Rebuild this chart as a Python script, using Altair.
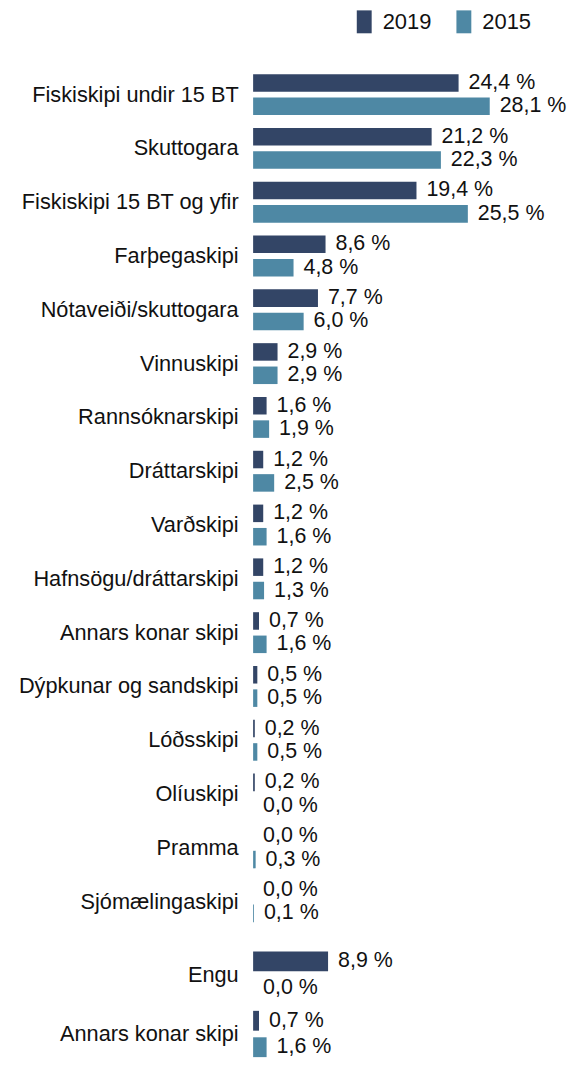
import altair as alt
import pandas as pd

categories = ["Fiskiskipi undir 15 BT", "Skuttogara", "Fiskiskipi 15 BT og yfir",
              "Farþegaskipi", "Nótaveiði/skuttogara", "Vinnuskipi", "Rannsóknarskipi",
              "Dráttarskipi", "Varðskipi", "Hafnsögu/dráttarskipi", "Annars konar skipi",
              "Dýpkunar og sandskipi", "Lóðsskipi", "Olíuskipi", "Pramma", "Sjómælingaskipi"]
values_2019 = [24.4, 21.2, 19.4, 8.6, 7.7, 2.9, 1.6, 1.2, 1.2, 1.2, 0.7, 0.5, 0.2, 0.2, 0.0, 0.0]
values_2015 = [28.1, 22.3, 25.5, 4.8, 6.0, 2.9, 1.9, 2.5, 1.6, 1.3, 1.6, 0.5, 0.5, 0.0, 0.3, 0.1]

extra_categories = ["Engu", "Annars konar skipi"]
extra_2019 = [8.9, 0.7]
extra_2015 = [0.0, 1.6]

years = ["2019", "2015"]
colors = ["#334566", "#4e88a4"]

FONT = "Liberation Sans"
AXIS_FS = 21.8
VALUE_FS = 21.5


def make_df(cats, v19, v15):
    rows = []
    for c, a, b in zip(cats, v19, v15):
        rows.append({"cat": c, "year": "2019", "value": a})
        rows.append({"cat": c, "year": "2015", "value": b})
    return pd.DataFrame(rows)


def panel(df, cats, height, p_in, p_out, legend):
    base = alt.Chart(df).transform_calculate(
        label="replace(format(datum.value, '.1f'), '.', ',') + ' %'"
    ).encode(
        y=alt.Y("cat:N", sort=cats,
                scale=alt.Scale(paddingInner=p_in, paddingOuter=p_out),
                axis=alt.Axis(title=None, domain=False, ticks=False, labelPadding=15,
                              labelFontSize=AXIS_FS, labelColor="#111111", labelFont=FONT,
                              labelLimit=400)),
        yOffset=alt.YOffset("year:N", sort=years,
                            scale=alt.Scale(domain=years, paddingInner=0.25, paddingOuter=0)),
        x=alt.X("value:Q", scale=alt.Scale(domain=[0, 35.5], nice=False), axis=None),
    )
    bars = base.mark_bar().encode(
        color=alt.Color("year:N", scale=alt.Scale(domain=years, range=colors),
                        sort=years, legend=legend)
    )
    text = base.mark_text(align="left", baseline="middle", dx=10, fontSize=VALUE_FS,
                          font=FONT, color="#111111").encode(text="label:N")
    return alt.layer(bars, text).properties(width=300, height=height)


legend = alt.Legend(orient="none", legendX=100, legendY=-57.5, direction="horizontal",
                    title=None, symbolType="M-0.65,-1V1H0.65V-1Z", symbolSize=529,
                    symbolStrokeWidth=0, symbolOpacity=1, labelFontSize=22, labelFont=FONT,
                    labelColor="#111111", labelOffset=7, columnPadding=21, padding=0)

top = panel(make_df(categories, values_2019, values_2015), categories, 864, 0.24, 0.12, legend)
bottom = panel(make_df(extra_categories, extra_2019, extra_2015), extra_categories, 106, 0.22, 0, None)

chart = alt.vconcat(top, bottom, spacing=21).resolve_scale(
    yOffset="independent", y="independent"
).resolve_legend(color="independent").properties(
    padding={"left": 10, "top": 0, "right": 0, "bottom": 0}
).configure_view(stroke=None)

chart.save("out.html", embed_options={"renderer": "svg", "actions": False})
